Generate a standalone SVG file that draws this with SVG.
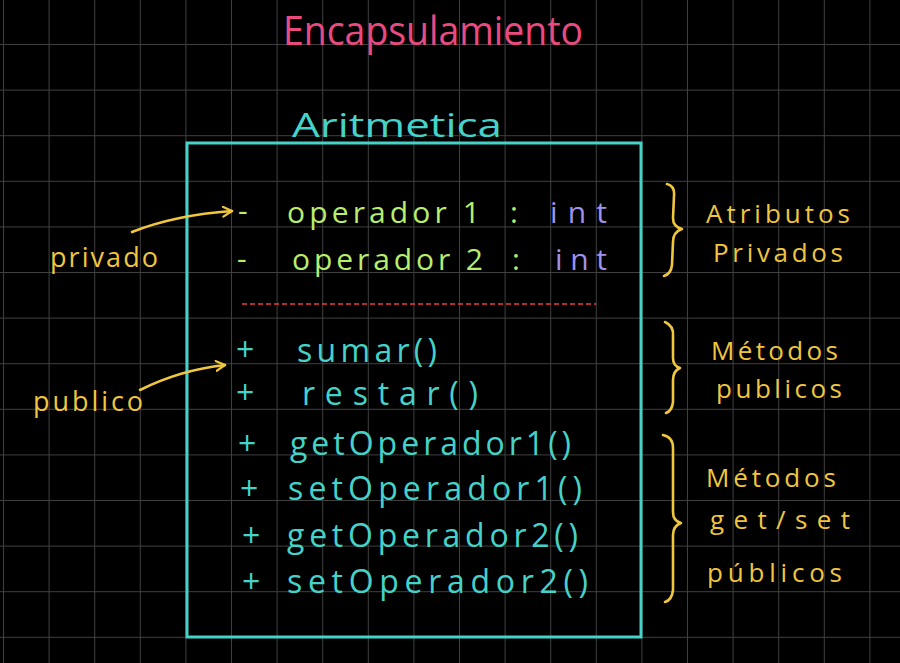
<svg xmlns="http://www.w3.org/2000/svg" width="900" height="663" viewBox="0 0 900 663">
<defs>
<pattern id="grid" x="3" y="-1.6" width="45.6" height="45.6" patternUnits="userSpaceOnUse">
<path d="M0 0 H45.6 M0 0 V45.6" fill="none" stroke="#404040" stroke-width="2"/>
</pattern>
<marker id="ah" viewBox="0 0 12 12" refX="10" refY="6" markerWidth="12" markerHeight="12" markerUnits="userSpaceOnUse" orient="auto">
<path d="M1 1 L10 6 L1 11" fill="none" stroke="#f0c63f" stroke-width="2.2" stroke-linecap="round" stroke-linejoin="round"/>
</marker>
<style>
text{font-family:"Open Sans","Liberation Sans",sans-serif;font-weight:400}
.t{fill:#ea4a80;font-size:40px}
.c{fill:#45d3c9;font-size:32px}
.g{fill:#b8ee6c;font-size:30px}
.p{fill:#9f92ea;font-size:30px}
.y{fill:#f0c63f;font-size:27px}
.y2{fill:#f0c63f;font-size:26px}
.br{fill:none;stroke:#f0c63f;stroke-width:2.6;stroke-linecap:round;stroke-linejoin:round}
</style>
</defs>
<rect width="900" height="663" fill="#000"/>
<rect width="900" height="663" fill="url(#grid)"/>

<g id="title"><text class="t" x="283" y="45" textLength="300" lengthAdjust="spacingAndGlyphs">Encapsulamiento</text></g>

<g id="class-aritmetica">
<text class="c" x="292" y="137" textLength="210" lengthAdjust="spacingAndGlyphs" font-size="38">Aritmetica</text>
<rect x="187" y="143" width="454" height="494" fill="none" stroke="#45d3c9" stroke-width="3"/>
<text class="g" x="238" y="221">-</text>
<text class="g" x="287" y="223" textLength="193" lengthAdjust="spacing">operador 1</text>
<text class="g" x="510" y="223">:</text>
<text class="p" x="550" y="223" textLength="57" lengthAdjust="spacing">int</text>
<text class="g" x="237" y="269">-</text>
<text class="g" x="292" y="270" textLength="191" lengthAdjust="spacing">operador 2</text>
<text class="g" x="512" y="270">:</text>
<text class="p" x="555" y="270" textLength="52" lengthAdjust="spacing">int</text>
<line x1="242" y1="304" x2="596" y2="304" stroke="#e0403c" stroke-width="1.6" stroke-dasharray="5 3"/>
<text class="c" x="236" y="361">+</text>
<text class="c" x="297" y="362" textLength="140" lengthAdjust="spacing">sumar()</text>
<text class="c" x="236" y="404">+</text>
<text class="c" x="302" y="405" textLength="176" lengthAdjust="spacing">restar()</text>
<text class="c" x="238" y="455">+</text>
<text class="c" x="290" y="455" textLength="281" lengthAdjust="spacing">getOperador1()</text>
<text class="c" x="240" y="500">+</text>
<text class="c" x="288" y="500" textLength="294" lengthAdjust="spacing">setOperador1()</text>
<text class="c" x="242" y="547">+</text>
<text class="c" x="287" y="547" textLength="291" lengthAdjust="spacing">getOperador2()</text>
<text class="c" x="242" y="593">+</text>
<text class="c" x="287" y="593" textLength="301" lengthAdjust="spacing">setOperador2()</text>
</g>

<g id="label-privado"><text class="y" x="50" y="267" textLength="108" lengthAdjust="spacing">privado</text></g>
<g id="label-publico"><text class="y" x="33" y="411" textLength="110" lengthAdjust="spacing">publico</text></g>

<g id="note-atributos">
<text class="y2" x="706" y="223" textLength="144" lengthAdjust="spacing">Atributos</text>
<text class="y2" x="713" y="262" textLength="130" lengthAdjust="spacing">Privados</text>
</g>
<g id="note-metodos">
<text class="y2" x="711" y="360" textLength="127" lengthAdjust="spacing">Métodos</text>
<text class="y2" x="716" y="398" textLength="126" lengthAdjust="spacing">publicos</text>
</g>
<g id="note-getset">
<text class="y2" x="706" y="487" textLength="130" lengthAdjust="spacing">Métodos</text>
<text class="y2" x="710" y="529" textLength="140" lengthAdjust="spacing">get/set</text>
<text class="y2" x="707" y="582" textLength="135" lengthAdjust="spacing">públicos</text>
</g>

<g id="connectors">
<path d="M132 232 Q175 215 232 211" fill="none" stroke="#f0c63f" stroke-width="2.6" stroke-linecap="round" marker-end="url(#ah)"/>
<path d="M140 390 Q180 370 225 365" fill="none" stroke="#f0c63f" stroke-width="2.6" stroke-linecap="round" marker-end="url(#ah)"/>
<path class="br" d="M667 184 Q675 186 674 196 L673 218 Q673 227 682 229 Q673 232 673 242 L672 265 Q671 274 664 276"/>
<path class="br" d="M665 322 Q674 326 673 336 L673 358 Q673 366 680 368 Q673 371 673 380 L673 402 Q672 411 666 413"/>
<path class="br" d="M663 435 Q673 437 673 448 L673 512 Q673 521 681 523 Q673 526 673 535 L673 590 Q672 600 665 602"/>
</g>
</svg>
